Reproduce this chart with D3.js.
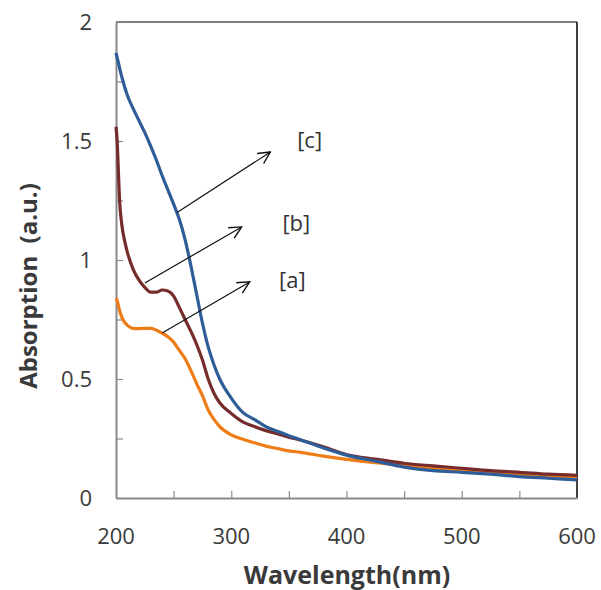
<!DOCTYPE html>
<meta charset="utf-8">
<script src="https://d3js.org/d3.v7.min.js"></script>
<style>
body { margin: 0; background: #fff; }
text { font-family: "Open Sans", "Liberation Sans", sans-serif; }
</style>
<div id="chart"></div>
<script>
// wavelength (nm) and absorption for each sample
var wlA = [200, 201, 203, 205, 208, 212, 216, 220, 225, 230, 235, 240, 245, 250, 255, 260, 265, 270, 275, 280, 285, 290, 300, 310, 320, 330, 340, 350, 360, 380, 400, 425, 450, 475, 500, 525, 550, 575, 600];
var absA = [0.84, 0.83, 0.79, 0.76, 0.735, 0.718, 0.712, 0.712, 0.713, 0.713, 0.705, 0.693, 0.678, 0.655, 0.62, 0.585, 0.535, 0.48, 0.43, 0.37, 0.33, 0.30, 0.265, 0.247, 0.232, 0.218, 0.208, 0.198, 0.192, 0.176, 0.162, 0.148, 0.138, 0.125, 0.117, 0.108, 0.1, 0.094, 0.088];

var wlB = [200, 201, 202, 203, 205, 208, 210, 215, 220, 225, 230, 235, 240, 245, 250, 255, 260, 265, 270, 275, 280, 285, 290, 300, 310, 320, 330, 340, 350, 360, 380, 400, 425, 450, 475, 500, 525, 550, 575, 600];
var absB = [1.56, 1.50, 1.38, 1.26, 1.15, 1.07, 1.03, 0.96, 0.915, 0.885, 0.865, 0.865, 0.874, 0.87, 0.848, 0.80, 0.75, 0.70, 0.645, 0.58, 0.50, 0.44, 0.40, 0.355, 0.32, 0.30, 0.283, 0.27, 0.255, 0.244, 0.215, 0.183, 0.163, 0.146, 0.135, 0.125, 0.115, 0.108, 0.1, 0.095];

var wlC = [200, 202, 205, 210, 215, 220, 225, 230, 235, 240, 245, 250, 255, 260, 265, 270, 275, 280, 285, 290, 300, 310, 320, 330, 340, 350, 360, 380, 400, 425, 450, 475, 500, 525, 550, 575, 600];
var absC = [1.87, 1.83, 1.77, 1.69, 1.635, 1.585, 1.535, 1.48, 1.42, 1.355, 1.295, 1.235, 1.17, 1.085, 0.975, 0.855, 0.735, 0.635, 0.56, 0.50, 0.42, 0.36, 0.33, 0.30, 0.28, 0.262, 0.245, 0.21, 0.18, 0.155, 0.13, 0.115, 0.108, 0.1, 0.09, 0.083, 0.076];

var seriesNames = ["[a]", "[b]", "[c]"];
var seriesColors = ["#ee7c17", "#772c2c", "#2e5d98"];

// arrow annotations: start on curve, end near label (data units)
var arrowFrom = [[240, 0.693], [225, 0.903], [253, 1.20]];
var arrowTo = [[316, 0.908], [309, 1.139], [334, 1.454]];
var labelPos = [[353, 0.916], [356.5, 1.155], [368, 1.504]];

var xTicks = [200, 250, 300, 350, 400, 450, 500, 550, 600];
var yTicks = [0, 0.25, 0.5, 0.75, 1, 1.25, 1.5, 1.75, 2];

var W = 601, H = 590;
var svg = d3.select("#chart").append("svg")
  .attr("width", W)
  .attr("height", H);

var x = d3.scaleLinear().domain([200, 600]).range([116, 577]);
var y = d3.scaleLinear().domain([0, 2]).range([498, 22]);

// frame top + right in black
svg.append("line")
  .attr("x1", x(200)).attr("x2", x(600))
  .attr("y1", y(2)).attr("y2", y(2))
  .attr("stroke", "#000").attr("stroke-width", 1.2);
svg.append("line")
  .attr("x1", x(600)).attr("x2", x(600))
  .attr("y1", y(2)).attr("y2", y(0))
  .attr("stroke", "#000").attr("stroke-width", 1.5);

var fmt = function(d) { return (d * 2) % 1 === 0 ? d3.format("~g")(d) : ""; };

var yAxis = svg.append("g")
  .attr("transform", "translate(" + x(200) + ",0)")
  .call(d3.axisLeft(y).tickValues(yTicks).tickSizeInner(-7).tickSizeOuter(0).tickPadding(24).tickFormat(fmt));

var xAxis = svg.append("g")
  .attr("transform", "translate(0," + y(0) + ")")
  .call(d3.axisBottom(x).tickValues(xTicks.slice(1, -1)).tickSizeInner(-7).tickSizeOuter(0).tickPadding(28).tickFormat(""));

// x tick labels (all, including 200 and 600)
svg.append("g").selectAll("text")
  .data(xTicks.filter(function(d) { return d % 100 === 0; }))
  .join("text")
  .attr("x", function(d) { return x(d); })
  .attr("y", 544)
  .attr("text-anchor", "middle")
  .attr("font-size", 22)
  .attr("fill", "#3a3a3a")
  .text(function(d) { return d; });

[xAxis, yAxis].forEach(function(g) {
  g.select(".domain").attr("stroke", "#8a8a8a").attr("stroke-width", 2);
  g.selectAll(".tick line").attr("stroke", "#8a8a8a").attr("stroke-width", 1.2);
  g.selectAll(".tick text").attr("font-size", 22).attr("fill", "#3a3a3a")
    .style("font-family", "'Open Sans', 'Liberation Sans', sans-serif");
});

// curves
var line = d3.line()
  .x(function(d) { return x(d[0]); })
  .y(function(d) { return y(d[1]); })
  .curve(d3.curveMonotoneX);

var series = [d3.zip(wlA, absA), d3.zip(wlB, absB), d3.zip(wlC, absC)];
svg.append("g").selectAll("path")
  .data(series)
  .join("path")
  .attr("fill", "none")
  .attr("stroke", function(d, i) { return seriesColors[i]; })
  .attr("stroke-width", 3.2)
  .attr("stroke-linejoin", "round")
  .attr("d", line);

// open arrowheads
svg.append("defs").append("marker")
  .attr("id", "arr")
  .attr("viewBox", "0 0 14 14")
  .attr("refX", 13).attr("refY", 7)
  .attr("markerWidth", 14).attr("markerHeight", 14)
  .attr("markerUnits", "userSpaceOnUse")
  .attr("orient", "auto")
  .append("path")
  .attr("d", "M1,1 L13,7 L1,13")
  .attr("fill", "none")
  .attr("stroke", "#111")
  .attr("stroke-width", 1.4);

svg.append("g").selectAll("line")
  .data(d3.range(3))
  .join("line")
  .attr("x1", function(i) { return x(arrowFrom[i][0]); })
  .attr("y1", function(i) { return y(arrowFrom[i][1]); })
  .attr("x2", function(i) { return x(arrowTo[i][0]); })
  .attr("y2", function(i) { return y(arrowTo[i][1]); })
  .attr("stroke", "#111")
  .attr("stroke-width", 1.2)
  .attr("marker-end", "url(#arr)");

svg.append("g").selectAll("text")
  .data(d3.range(3))
  .join("text")
  .attr("x", function(i) { return x(labelPos[i][0]); })
  .attr("y", function(i) { return y(labelPos[i][1]); })
  .attr("dy", "0.35em")
  .attr("text-anchor", "middle")
  .attr("font-size", 22)
  .attr("fill", "#333")
  .text(function(i) { return seriesNames[i]; });

// axis titles
svg.append("text")
  .attr("x", 347)
  .attr("y", 584)
  .attr("text-anchor", "middle")
  .attr("font-size", 25)
  .attr("font-weight", "bold")
  .attr("fill", "#3a3a3a")
  .text("Wavelength(nm)");

svg.append("text")
  .attr("transform", "translate(37,286) rotate(-90)")
  .attr("text-anchor", "middle")
  .attr("font-size", 24)
  .attr("font-weight", "bold")
  .attr("fill", "#3a3a3a")
  .style("white-space", "pre")
  .text("Absorption  (a.u.)");
</script>
